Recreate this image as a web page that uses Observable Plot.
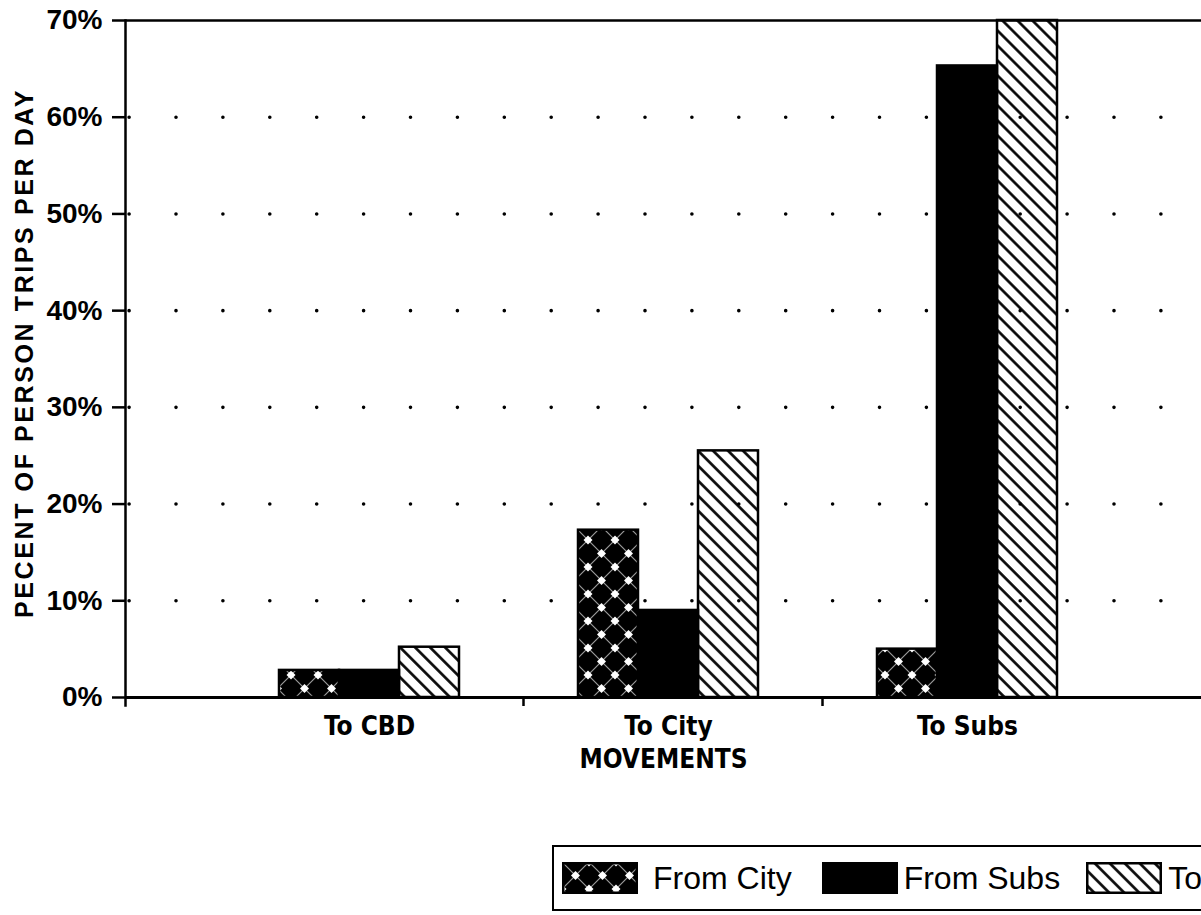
<!DOCTYPE html>
<html><head><meta charset="utf-8">
<script src="https://cdn.jsdelivr.net/npm/d3@7"></script>
<script src="https://cdn.jsdelivr.net/npm/@observablehq/plot@0.6"></script>
<style>
html,body{margin:0;padding:0;background:#fff;overflow:hidden;width:1201px;height:915px}
#chart{position:absolute;left:0;top:0}
#legend{position:absolute;left:552px;top:845px;width:760px;height:66px;border:2.5px solid #000;box-sizing:border-box;display:flex;align-items:center;font-family:"Liberation Sans",Arial,sans-serif;font-size:32px;color:#000;white-space:nowrap}
.item{display:flex;align-items:center}
.item svg{display:block}
</style>
</head><body>
<div id="chart"></div>
<div id="legend"></div>
<script>
const categories = ["To CBD", "To City", "To Subs"];
const seriesNames = ["From City", "From Subs", "Total"];
const fromCity = [2.8, 17.3, 5.0];
const fromSubs = [2.8, 9.0, 65.3];
const total = [5.2, 25.5, 70];
const yTicks = [0, 10, 20, 30, 40, 50, 60, 70];
const gridTicks = [10, 20, 30, 40, 50, 60];
const yLabel = "PECENT OF PERSON TRIPS PER DAY";
const xLabel = "MOVEMENTS";

const seriesValues = [fromCity, fromSubs, total];
const fills = ["url(#pCity)", "black", "url(#pTotal)"];
const offsets = [-60, 0, 60];
const rows = [];
seriesNames.forEach((s, si) => categories.forEach((c, ci) => rows.push({series: s, category: c, value: seriesValues[si][ci]})));

const condFont = "'DejaVu Sans Condensed','DejaVu Sans',sans-serif";

const plot = Plot.plot({
  width: 1201,
  height: 845,
  marginTop: 20,
  marginBottom: 148,
  marginLeft: 125,
  marginRight: 0,
  style: {background: "white", overflow: "visible"},
  x: {type: "band", domain: categories, range: [218, 1117], paddingInner: 0.8, paddingOuter: 0.4},
  y: {domain: [0, 70]},
  marks: [
    Plot.ruleY(gridTicks, {stroke: "black", strokeWidth: 3.6, strokeLinecap: "round", strokeDasharray: "0 46.9", strokeDashoffset: -4.1}),
    ...seriesNames.map((s, si) => Plot.barY(rows.filter(d => d.series === s), {
      x: "category", y: "value", fill: fills[si], stroke: "black", strokeWidth: 2.5, dx: offsets[si]
    })),
    Plot.ruleY([0], {stroke: "black", strokeWidth: 3}),
    Plot.ruleY([70], {stroke: "black", strokeWidth: 2.5}),
    Plot.frame({anchor: "left", stroke: "black", strokeWidth: 2.5, insetBottom: -8}),
    Plot.ruleX(categories.slice(0, 2), {x: d => d, dx: 154, y1: d => 0, y2: d => 0, insetBottom: -9, stroke: "black", strokeWidth: 2.5}),
    Plot.axisY(yTicks, {tickSize: 13, tickPadding: 10, tickFormat: d => d + "%", fontSize: 28, fontWeight: "bold", fontFamily: "'Liberation Sans',Arial,sans-serif", strokeWidth: 2.5, label: null}),
    Plot.axisX({tickSize: 0, tickPadding: 19, fontSize: 26, fontWeight: "bold", fontFamily: condFont, label: null}),
    Plot.text([xLabel], {frameAnchor: "bottom", dy: 70, fontSize: 26, fontWeight: "bold", fontFamily: condFont}),
    Plot.text([yLabel], {frameAnchor: "left", textAnchor: "middle", rotate: -90, dx: -101, dy: -6, fontSize: 25, fontWeight: "bold", fontFamily: "'Liberation Sans',Arial,sans-serif"})
  ]
});

// pattern definitions
const defs = d3.select(plot).insert("defs", ":first-child");
const pc = defs.append("pattern").attr("id", "pCity").attr("patternUnits", "userSpaceOnUse").attr("width", 27).attr("height", 27);
pc.append("rect").attr("width", 27).attr("height", 27).attr("fill", "black");
pc.append("path").attr("d", "M0,0L27,27M27,0L0,27").attr("stroke", "white").attr("stroke-width", 1.2).attr("stroke-opacity", 0.6);
[[0,0],[27,0],[0,27],[27,27],[13.5,13.5]].forEach(([cx, cy]) =>
  pc.append("path").attr("d", `M${cx},${cy-4.5}L${cx+4.5},${cy}L${cx},${cy+4.5}L${cx-4.5},${cy}Z`).attr("fill", "white"));
const pt = defs.append("pattern").attr("id", "pTotal").attr("patternUnits", "userSpaceOnUse").attr("width", 10.6).attr("height", 10.6).attr("patternTransform", "rotate(-45)");
pt.append("line").attr("x1", 5.3).attr("x2", 5.3).attr("y1", -1).attr("y2", 11.6).attr("stroke", "black").attr("stroke-width", 2.6);

d3.select(plot).selectAll("text").filter(function() { return this.textContent === yLabel; }).style("letter-spacing", "2.6px");
d3.select(plot).selectAll("text").filter(function() { return categories.includes(this.textContent) || this.textContent === xLabel; }).style("font-stretch", "condensed");
document.getElementById("chart").appendChild(plot);

// legend
const legend = d3.select("#legend");
const gaps = [8, 30, 26];
seriesNames.forEach((s, si) => {
  const item = legend.append("div").attr("class", "item").style("margin-left", gaps[si] + "px");
  const sw = item.append("svg").attr("width", 76).attr("height", 32).style("margin-right", si === 0 ? "15px" : "6px");
  sw.append("rect").attr("x", 1.25).attr("y", 1.25).attr("width", 73.5).attr("height", 29.5).attr("fill", fills[si]).attr("stroke", "black").attr("stroke-width", 2.5);
  item.append("span").text(s);
});
</script>
</body></html>
